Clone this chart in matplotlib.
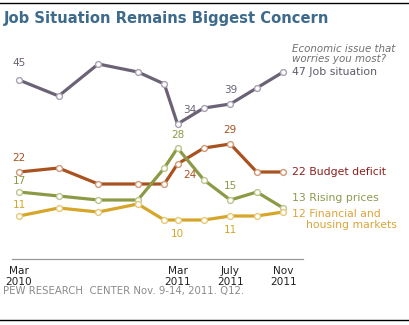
import matplotlib.pyplot as plt
from matplotlib.lines import Line2D

# survey months, counted from Mar 2010
months = [0, 3, 6, 9, 11, 12, 14, 16, 18, 20]
job = [45, 41, 49, 47, 44, 34, 38, 39, 43, 47]
budget = [22, 23, 19, 19, 19, 24, 28, 29, 22, 22]
prices = [17, 16, 15, 15, 23, 28, 20, 15, 17, 13]
financial = [11, 13, 12, 14, 10, 10, 10, 11, 11, 12]

tick_months = [0, 12, 16, 20]
tick_labels = ['Mar\n2010', 'Mar\n2011', 'July\n2011', 'Nov\n2011']

series = [
  (job, '#6b6276', '#a9a2b2', '#5f5a6a', 'Job situation'),
  (budget, '#a9521f', '#cf9a78', '#8e1f1f', 'Budget deficit'),
  (prices, '#8c9a45', '#bcc58e', '#8a9a4e', 'Rising prices'),
  (financial, '#d6a62a', '#e6c97a', '#dca43a', 'Financial and\n    housing markets'),
]

W, H = 410, 325
fig = plt.figure(figsize=(4.1, 3.25), dpi=100)
ax = fig.add_axes([12 / W, (H - 259) / H, 291 / W, 204 / H])
ax.set_xlim(-0.53, 21.5)
ax.set_ylim(0.25, 51.25)

for vals, col, mcol, tcol, name in series:
  ax.plot(months, vals, color=col, lw=2.3, zorder=2, solid_capstyle='round')
  ax.plot(months, vals, 'o', ms=4.2, mfc='white', mec=mcol, mew=1.0, zorder=3)

# point labels
lab_font = dict(fontsize=7.5)
ax.text(0, 45 + 3, '45', color='#6b6276', ha='center', va='bottom', **lab_font)
ax.text(12.4, 34 + 2.2, '34', color='#6b6276', ha='left', va='bottom', **lab_font)
ax.text(16, 39 + 2.2, '39', color='#6b6276', ha='center', va='bottom', **lab_font)
ax.text(0, 22 + 2.2, '22', color='#a9521f', ha='center', va='bottom', **lab_font)
ax.text(12.4, 24 - 1.6, '24', color='#a9521f', ha='left', va='top', **lab_font)
ax.text(16, 29 + 2.2, '29', color='#a9521f', ha='center', va='bottom', **lab_font)
ax.text(0, 17 + 1.4, '17', color='#8c9a45', ha='center', va='bottom', **lab_font)
ax.text(12, 28 + 2.0, '28', color='#8c9a45', ha='center', va='bottom', **lab_font)
ax.text(16, 15 + 2.2, '15', color='#8c9a45', ha='center', va='bottom', **lab_font)
ax.text(0, 11 + 1.6, '11', color='#d6a62a', ha='center', va='bottom', **lab_font)
ax.text(12, 10 - 2.2, '10', color='#d6a62a', ha='center', va='top', **lab_font)
ax.text(16, 11 - 2.2, '11', color='#d6a62a', ha='center', va='top', **lab_font)

# end labels
right_y = [47, 22, 15.5, 12.8]
for (vals, col, mcol, tcol, name), yy in zip(series, right_y):
  ax.text(20.7, yy, f'{vals[-1]} {name}', color=tcol, ha='left', va='top' if '\n' in name else 'center',
          fontsize=7.8, linespacing=1.1, clip_on=False)

ax.text(20.7, 51.5, 'Economic issue that\nworries you most?', color='#707070', style='italic',
        ha='left', va='center', fontsize=7.4, linespacing=1.1, clip_on=False)

for side in ['top', 'left', 'right']:
  ax.spines[side].set_visible(False)
ax.spines['bottom'].set_color('#999999')
ax.spines['bottom'].set_linewidth(0.9)
ax.set_yticks([])
ax.set_xticks(tick_months)
ax.set_xticklabels(tick_labels, fontsize=7.6, color='#222222', linespacing=1.1)
ax.tick_params(axis='x', length=0, pad=5)

fig.text(4 / W, 1 - 19 / H, 'Job Situation Remains Biggest Concern', color='#3e6a8c',
         fontsize=10.6, fontweight='bold', ha='left', va='center')
fig.text(3 / W, 1 - 291 / H, 'PEW RESEARCH  CENTER Nov. 9-14, 2011. Q12.', color='#8a8a8a',
         fontsize=7.3, ha='left', va='center')

fig.add_artist(Line2D([0, 1], [1 - 3 / H, 1 - 3 / H], color='black', lw=1.0, transform=fig.transFigure))
fig.add_artist(Line2D([0, 1], [1 - 320 / H, 1 - 320 / H], color='black', lw=1.0, transform=fig.transFigure))

plt.savefig('out.png', dpi=100)
plt.close()
